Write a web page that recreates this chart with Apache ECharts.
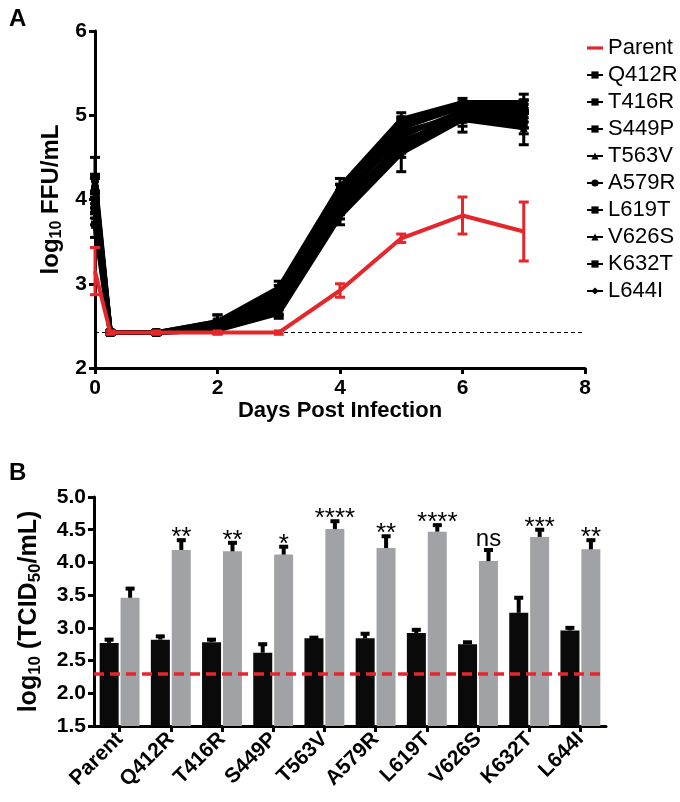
<!DOCTYPE html>
<html>
<head>
<meta charset="utf-8">
<script src="https://cdn.jsdelivr.net/npm/echarts@6/dist/echarts.min.js"></script>
<style>
  html, body { margin: 0; padding: 0; background: #fff; }
  #chart { width: 680px; height: 802px; }
</style>
</head>
<body>
<div id="chart"></div>
<script>
// ---- panel A: growth curves (log10 FFU/mL) ----
var days = [0, 0.25, 1, 2, 3, 4, 5, 6, 7];
var parentA   = [3.15, 2.42, 2.42, 2.42, 2.42, 2.92, 3.54, 3.81, 3.62];
var parentASd = [0.28, 0.02, 0.02, 0.02, 0.02, 0.08, 0.05, 0.22, 0.35];

var q412r   = [4.25, 2.42, 2.42, 2.55, 2.95, 4.15, 4.95, 5.15, 5.15];
var q412rSd = [0.25, 0.02, 0.02, 0.08, 0.08, 0.10, 0.08, 0.05, 0.10];
var t416r   = [4.10, 2.42, 2.42, 2.50, 2.85, 4.10, 4.85, 5.10, 5.10];
var t416rSd = [0.15, 0.02, 0.02, 0.05, 0.06, 0.08, 0.10, 0.06, 0.08];
var s449p   = [3.95, 2.42, 2.42, 2.48, 2.80, 4.00, 4.75, 5.05, 5.00];
var s449pSd = [0.12, 0.02, 0.02, 0.04, 0.05, 0.08, 0.08, 0.06, 0.08];
var t563v   = [3.80, 2.42, 2.42, 2.45, 2.70, 3.90, 4.60, 5.00, 4.95];
var t563vSd = [0.10, 0.02, 0.02, 0.04, 0.06, 0.08, 0.10, 0.08, 0.10];
var a579r   = [4.15, 2.42, 2.42, 2.52, 2.90, 4.05, 4.90, 5.10, 5.05];
var a579rSd = [0.12, 0.02, 0.02, 0.05, 0.08, 0.06, 0.08, 0.05, 0.08];
var l619t   = [3.70, 2.42, 2.42, 2.50, 2.75, 3.85, 4.70, 4.95, 4.90];
var l619tSd = [0.15, 0.02, 0.02, 0.05, 0.06, 0.08, 0.12, 0.08, 0.12];
var v626s   = [4.00, 2.42, 2.42, 2.45, 2.65, 3.80, 4.55, 4.95, 4.85];
var v626sSd = [0.10, 0.02, 0.02, 0.04, 0.06, 0.10, 0.22, 0.15, 0.20];
var k632t   = [3.90, 2.42, 2.42, 2.55, 2.85, 4.10, 4.80, 5.00, 5.10];
var k632tSd = [0.12, 0.02, 0.02, 0.08, 0.08, 0.08, 0.08, 0.06, 0.08];
var l644i   = [4.20, 2.42, 2.42, 2.50, 2.70, 3.95, 4.65, 5.05, 4.95];
var l644iSd = [0.10, 0.02, 0.02, 0.05, 0.08, 0.08, 0.10, 0.06, 0.10];
var limitA = 2.42;

var variants = [
  { name: 'Q412R', mean: q412r, sd: q412rSd, symbol: 'rect' },
  { name: 'T416R', mean: t416r, sd: t416rSd, symbol: 'rect' },
  { name: 'S449P', mean: s449p, sd: s449pSd, symbol: 'rect' },
  { name: 'T563V', mean: t563v, sd: t563vSd, symbol: 'triangle' },
  { name: 'A579R', mean: a579r, sd: a579rSd, symbol: 'circle' },
  { name: 'L619T', mean: l619t, sd: l619tSd, symbol: 'rect' },
  { name: 'V626S', mean: v626s, sd: v626sSd, symbol: 'triangle' },
  { name: 'K632T', mean: k632t, sd: k632tSd, symbol: 'rect' },
  { name: 'L644I', mean: l644i, sd: l644iSd, symbol: 'diamond' }
];

// ---- panel B: titers per mutant ----
var mutants   = ['Parent', 'Q412R', 'T416R', 'S449P', 'T563V', 'A579R', 'L619T', 'V626S', 'K632T', 'L644I'];
var blackVals = [2.77, 2.82, 2.78, 2.62, 2.84, 2.84, 2.92, 2.75, 3.23, 2.96];
var blackErr  = [0.05, 0.05, 0.04, 0.13, 0.01, 0.07, 0.05, 0.03, 0.23, 0.04];
var greyVals  = [3.46, 4.19, 4.17, 4.12, 4.51, 4.22, 4.47, 4.02, 4.39, 4.20];
var greyErr   = [0.14, 0.15, 0.13, 0.12, 0.12, 0.18, 0.10, 0.17, 0.11, 0.14];
var sigLabels = ['', '**', '**', '*', '****', '**', '****', 'ns', '***', '**'];
var limitB = 2.3;

var FONT = "'Liberation Sans', Arial, sans-serif";
var RED = '#e5262b';

function zip3(a, b, c) {
  return a.map(function (v, i) { return [v, b[i], c[i]]; });
}

// two-sided error bars for the growth curves
function errA(color) {
  return function (params, api) {
    var x = api.value(0), m = api.value(1), e = api.value(2);
    var top = api.coord([x, m + e]);
    var bot = api.coord([x, m - e]);
    var w = 5;
    var st = { stroke: color, lineWidth: 3 };
    return {
      type: 'group',
      children: [
        { type: 'line', shape: { x1: top[0], y1: top[1], x2: bot[0], y2: bot[1] }, style: st },
        { type: 'line', shape: { x1: top[0] - w, y1: top[1], x2: top[0] + w, y2: top[1] }, style: st },
        { type: 'line', shape: { x1: bot[0] - w, y1: bot[1], x2: bot[0] + w, y2: bot[1] }, style: st }
      ]
    };
  };
}

// upper error bars for the bars (+ significance text)
function errB(offset, withSig) {
  return function (params, api) {
    var i = api.value(0), m = api.value(1), e = api.value(2);
    var base = api.coord([i, m]);
    var top = api.coord([i, m + e]);
    var x = base[0] + offset;
    var st = { stroke: '#000', lineWidth: 4 };
    var kids = [
      { type: 'line', shape: { x1: x, y1: base[1], x2: x, y2: top[1] }, style: st },
      { type: 'line', shape: { x1: x - 4.5, y1: top[1], x2: x + 4.5, y2: top[1] }, style: st }
    ];
    if (withSig) {
      var s = sigLabels[params.dataIndex];
      if (s) {
        var ns = s === 'ns';
        kids.push({
          type: 'text',
          style: {
            text: s, x: x, y: top[1] + (ns ? 1 : 11),
            textAlign: 'center', textVerticalAlign: 'bottom',
            fontSize: ns ? 24 : 26, fontFamily: FONT, fill: '#000'
          }
        });
      }
    }
    return { type: 'group', children: kids };
  };
}

var chart = echarts.init(document.getElementById('chart'));

var series = [];
variants.forEach(function (v) {
  series.push({
    name: v.name + ' sd',
    type: 'custom',
    xAxisIndex: 0, yAxisIndex: 0,
    renderItem: errA('#000'),
    encode: { x: 0, y: 1 },
    data: zip3(days, v.mean, v.sd),
    z: 2
  });
});
variants.forEach(function (v) {
  series.push({
    name: v.name,
    type: 'line',
    xAxisIndex: 0, yAxisIndex: 0,
    symbol: v.symbol,
    symbolSize: 8,
    lineStyle: { color: '#000', width: 5 },
    itemStyle: { color: '#000' },
    data: days.map(function (d, i) { return [d, v.mean[i]]; }),
    z: 3
  });
});
series.push({
  name: 'Parent sd',
  type: 'custom',
  xAxisIndex: 0, yAxisIndex: 0,
  renderItem: errA(RED),
  encode: { x: 0, y: 1 },
  data: zip3(days, parentA, parentASd),
  z: 5
});
series.push({
  name: 'Parent',
  type: 'line',
  xAxisIndex: 0, yAxisIndex: 0,
  symbol: 'none',
  lineStyle: { color: RED, width: 4 },
  itemStyle: { color: RED },
  data: days.map(function (d, i) { return [d, parentA[i]]; }),
  markLine: {
    silent: true,
    symbol: 'none',
    label: { show: false },
    lineStyle: { color: '#000', width: 1, type: [4, 3] },
    data: [{ yAxis: limitA }]
  },
  z: 6
});

// panel B
series.push({
  name: 'black bars',
  type: 'bar',
  xAxisIndex: 1, yAxisIndex: 1,
  barWidth: 19,
  barGap: '10%',
  itemStyle: { color: '#0a0a0a' },
  data: blackVals,
  markLine: {
    silent: true,
    symbol: 'none',
    label: { show: false },
    lineStyle: { color: RED, width: 3.5, type: [10, 6] },
    data: [{ yAxis: limitB }],
    z: 10
  }
});
series.push({
  name: 'grey bars',
  type: 'bar',
  xAxisIndex: 1, yAxisIndex: 1,
  barWidth: 19,
  barGap: '10%',
  itemStyle: { color: '#a1a2a5' },
  data: greyVals
});
series.push({
  name: 'black err',
  type: 'custom',
  xAxisIndex: 1, yAxisIndex: 1,
  renderItem: errB(-10.5, false),
  encode: { x: 0, y: 1 },
  data: zip3(mutants.map(function (m, i) { return i; }), blackVals, blackErr),
  z: 4
});
series.push({
  name: 'grey err',
  type: 'custom',
  xAxisIndex: 1, yAxisIndex: 1,
  renderItem: errB(10.5, true),
  encode: { x: 0, y: 1 },
  data: zip3(mutants.map(function (m, i) { return i; }), greyVals, greyErr),
  z: 4
});

var axisLine = { show: true, lineStyle: { color: '#000', width: 3 } };
var axisTick = { show: true, length: 6, lineStyle: { color: '#000', width: 3 } };
var tickFont = { color: '#000', fontSize: 21, fontWeight: 'bold', fontFamily: FONT };

function richName(size, sub) {
  return {
    rich: {
      a: { color: '#000', fontSize: size, fontWeight: 'bold', fontFamily: FONT },
      s: { color: '#000', fontSize: sub, fontWeight: 'bold', fontFamily: FONT, padding: [Math.round(sub * 0.7), 0, 0, 0] }
    }
  };
}

var legendNames = [{ name: 'Parent', icon: 'path://M0,0 L20,0 L20,4 L0,4 Z', itemStyle: { color: RED } }]
  .concat(variants.map(function (v) { return v.name; }));

var option = {
  animation: false,
  backgroundColor: '#fff',
  title: [
    { text: 'A', left: 4, top: 2, textStyle: { fontSize: 24, fontWeight: 'bold', fontFamily: FONT, color: '#000' } },
    { text: 'B', left: 4, top: 456, textStyle: { fontSize: 24, fontWeight: 'bold', fontFamily: FONT, color: '#000' } }
  ],
  legend: {
    data: legendNames,
    orient: 'vertical',
    left: 586,
    top: 37,
    padding: 0,
    itemWidth: 16,
    itemHeight: 9,
    itemGap: 5,
    textStyle: { color: '#000', fontSize: 22, fontFamily: FONT, lineHeight: 22 }
  },
  grid: [
    { left: 95, top: 31, width: 490, height: 337 },
    { left: 94, top: 497, width: 512, height: 229 }
  ],
  xAxis: [
    {
      type: 'value', gridIndex: 0, min: 0, max: 8, interval: 2,
      axisLine: axisLine, axisTick: axisTick, splitLine: { show: false },
      axisLabel: Object.assign({ margin: 10 }, tickFont),
      name: 'Days Post Infection', nameLocation: 'middle', nameGap: 32,
      nameTextStyle: { color: '#000', fontSize: 22, fontWeight: 'bold', fontFamily: FONT }
    },
    {
      type: 'category', gridIndex: 1, data: mutants,
      axisLine: axisLine,
      axisTick: Object.assign({ alignWithLabel: true }, axisTick),
      axisLabel: Object.assign({ margin: 10, rotate: 45, interval: 0 }, tickFont)
    }
  ],
  yAxis: [
    {
      type: 'value', gridIndex: 0, min: 2, max: 6, interval: 1,
      axisLine: axisLine, axisTick: axisTick, splitLine: { show: false },
      axisLabel: Object.assign({ margin: 8 }, tickFont),
      name: '{a|log}{s|10}{a| FFU/mL}', nameLocation: 'middle', nameGap: 27, nameRotate: 90,
      nameTextStyle: richName(24, 16)
    },
    {
      type: 'value', gridIndex: 1, min: 1.5, max: 5, interval: 0.5,
      axisLine: axisLine, axisTick: axisTick, splitLine: { show: false },
      axisLabel: Object.assign({ margin: 8, formatter: function (v) { return v.toFixed(1); } }, tickFont),
      name: '{a|log}{s|10}{a| (TCID}{s|50}{a|/mL)}', nameLocation: 'middle', nameGap: 50, nameRotate: 90,
      nameTextStyle: richName(25, 17)
    }
  ],
  series: series
};

chart.setOption(option);
</script>
</body>
</html>
